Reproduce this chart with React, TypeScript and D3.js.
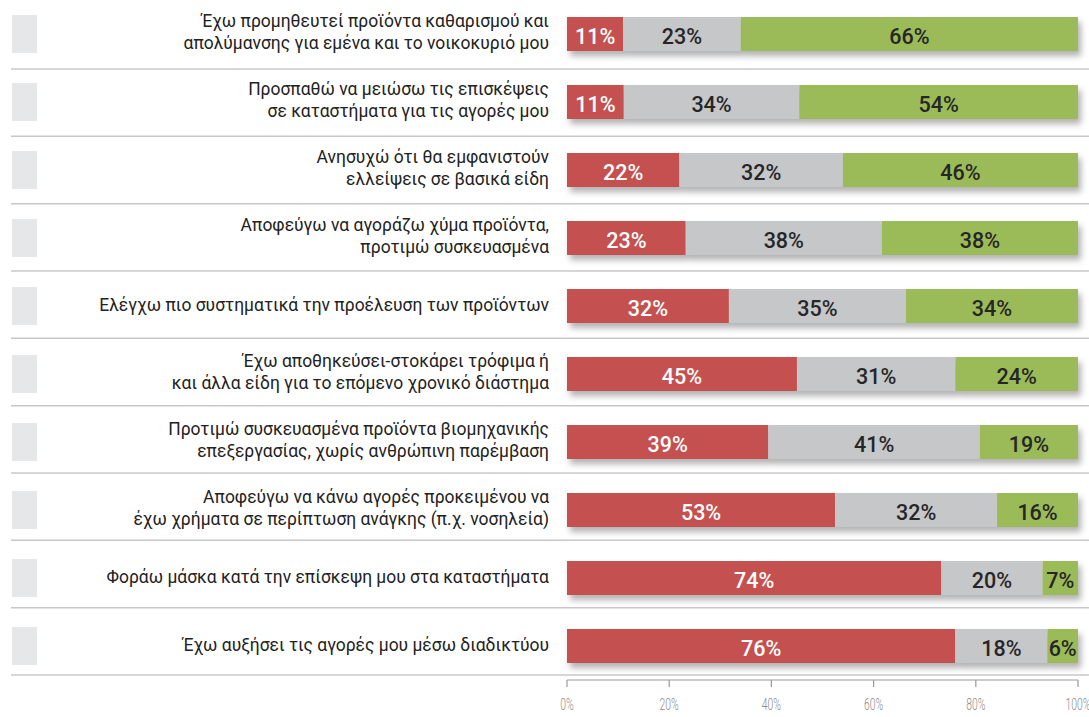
import React from "react";
import * as d3 from "d3";

const labels: string[][] = [
  ["Έχω προμηθευτεί προϊόντα καθαρισμού και", "απολύμανσης για εμένα και το νοικοκυριό μου"],
  ["Προσπαθώ να μειώσω τις επισκέψεις", "σε καταστήματα για τις αγορές μου"],
  ["Ανησυχώ ότι θα εμφανιστούν", "ελλείψεις σε βασικά είδη"],
  ["Αποφεύγω να αγοράζω χύμα προϊόντα,", "προτιμώ συσκευασμένα"],
  ["Ελέγχω πιο συστηματικά την προέλευση των προϊόντων"],
  ["Έχω αποθηκεύσει-στοκάρει τρόφιμα ή", "και άλλα είδη για το επόμενο χρονικό διάστημα"],
  ["Προτιμώ συσκευασμένα προϊόντα βιομηχανικής", "επεξεργασίας, χωρίς ανθρώπινη παρέμβαση"],
  ["Αποφεύγω να κάνω αγορές προκειμένου να", "έχω χρήματα σε περίπτωση ανάγκης (π.χ. νοσηλεία)"],
  ["Φοράω μάσκα κατά την επίσκεψη μου στα καταστήματα"],
  ["Έχω αυξήσει τις αγορές μου μέσω διαδικτύου"],
];

const redValues = [11, 11, 22, 23, 32, 45, 39, 53, 74, 76];
const grayValues = [23, 34, 32, 38, 35, 31, 41, 32, 20, 18];
const greenValues = [66, 54, 46, 38, 34, 24, 19, 16, 7, 6];

const tickValues = [0, 0.2, 0.4, 0.6, 0.8, 1];

const keys = ["red", "gray", "green"] as const;
const colors: Record<string, string> = { red: "#c4514f", gray: "#c6c7c9", green: "#9bbb59" };
const textColors: Record<string, string> = { red: "#ffffff", gray: "#262626", green: "#262626" };

export default function App() {
  const W = 1089;
  const H = 717;
  const rows = labels.map((l, i) => ({
    i,
    red: redValues[i],
    gray: grayValues[i],
    green: greenValues[i],
  }));
  const stack = d3.stack<any>().keys(keys as any).offset(d3.stackOffsetExpand);
  const series = stack(rows);

  const x = d3.scaleLinear().domain([0, 1]).range([567, 1078]);
  const y = d3
    .scaleBand<number>()
    .domain(rows.map((r) => r.i))
    .range([0, 680])
    .paddingInner(0.5)
    .paddingOuter(0.25);
  const sep = d3.scaleLinear().domain([0, rows.length - 1]).range([69, 675]);
  const bw = y.bandwidth();
  const axisY = 680;

  return (
    <svg
      width={W}
      height={H}
      style={{ position: "absolute", left: 0, top: 0, background: "#fff" }}
      fontFamily="Roboto, 'Noto Sans', sans-serif"
    >
      <defs>
        <filter id="shadow" x="-5%" y="-40%" width="110%" height="200%">
          <feDropShadow dx="3" dy="5" stdDeviation="3" floodColor="#000" floodOpacity="0.3" />
        </filter>
      </defs>
      {rows.map((r) => (
        <g key={"row" + r.i}>
          <rect x={12} y={(y(r.i) as number) - 2} width={25} height={bw + 4} fill="#e6e7e9" />
          <line
            x1={11}
            x2={W}
            y1={sep(r.i)}
            y2={sep(r.i)}
            stroke="#c8c8c8"
            strokeWidth={1.5}
          />
          <text
            textAnchor="end"
            fontSize={18}
            fill="#222"
            transform={`translate(549,${(y(r.i) as number) + bw / 2 - 1}) scale(0.97,1.03)`}
          >
            {labels[r.i].map((ln, k) => (
              <tspan
                key={k}
                x={0}
                dy={k === 0 ? (labels[r.i].length === 1 ? "0.35em" : "-0.3em") : "1.18em"}
              >
                {ln}
              </tspan>
            ))}
          </text>
        </g>
      ))}
      {rows.map((r) => (
        <g key={"bar" + r.i} filter="url(#shadow)">
          {series.map((s) => {
            const d = s[r.i];
            return (
              <rect
                key={s.key}
                x={x(d[0])}
                y={y(r.i)}
                width={x(d[1]) - x(d[0])}
                height={bw}
                fill={colors[s.key]}
              />
            );
          })}
        </g>
      ))}
      {rows.map((r) => (
        <g key={"lab" + r.i}>
          {series.map((s) => {
            const d = s[r.i];
            return (
              <text
                key={s.key}
                x={(x(d[0]) + x(d[1])) / 2}
                y={(y(r.i) as number) + bw / 2 + 2}
                textAnchor="middle"
                dominantBaseline="central"
                fontSize={21.5}
                fontWeight={500}
                fill={textColors[s.key]}
              >
                {(r as any)[s.key] + "%"}
              </text>
            );
          })}
        </g>
      ))}
      <g>
        <line x1={x(0)} x2={x(1)} y1={axisY} y2={axisY} stroke="#9a9a9a" strokeWidth={1.2} />
        {tickValues.map((t) => (
          <g key={t}>
            <line x1={x(t)} x2={x(t)} y1={axisY} y2={axisY + 7} stroke="#9a9a9a" strokeWidth={1.2} />
            <text
              transform={`translate(${x(t)},${axisY + 30}) scale(0.65,1)`}
              textAnchor="middle"
              fontSize={16}
              fontWeight={300}
              fill="#8a8a8a"
            >
              {Math.round(t * 100) + "%"}
            </text>
          </g>
        ))}
      </g>
    </svg>
  );
}
